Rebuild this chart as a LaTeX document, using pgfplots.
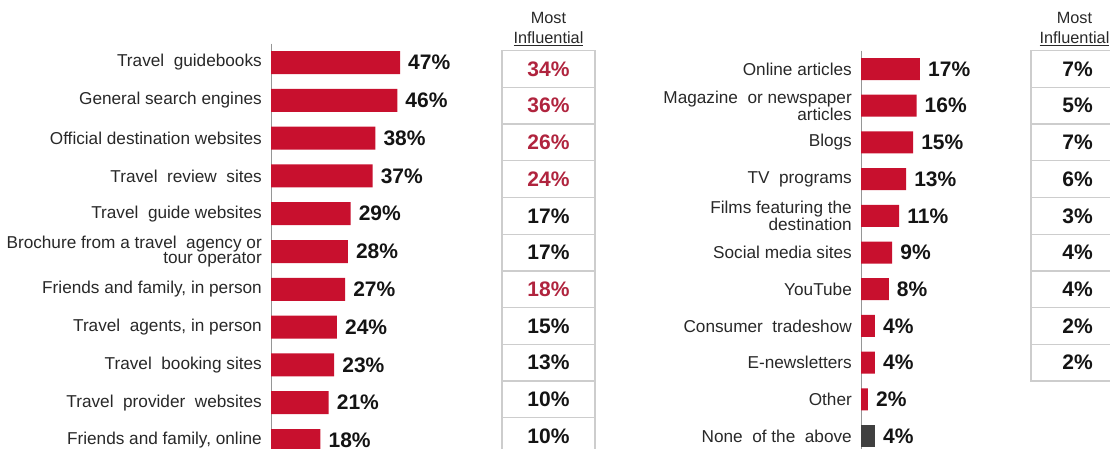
\documentclass[border=0pt]{standalone}
\usepackage{fontspec}
\setmainfont{Liberation Sans}
\usepackage{pgfplots}
\pgfplotsset{compat=1.18}
\definecolor{barred}{RGB}{200,16,46}
\definecolor{infred}{RGB}{176,36,62}
\definecolor{boxgray}{RGB}{205,205,205}
\definecolor{axgray}{RGB}{150,150,150}
\definecolor{darkbar}{RGB}{64,64,64}
\definecolor{labtxt}{RGB}{40,40,40}
\newcommand{\lab}{\fontsize{17.2bp}{12.5bp}\selectfont}
\newcommand{\val}{\fontsize{21bp}{21bp}\selectfont\bfseries}
\newcommand{\hdr}{\fontsize{16.3bp}{20bp}\selectfont}
\pgfplotsset{
  barax/.style={
    xbar, bar shift=0pt, clip=false,
    y dir=reverse, xmin=0,
    axis x line=none, axis y line*=left,
    axis line style={draw=axgray, line width=1bp},
    major tick length=0pt,
    ytick={0,...,10},
    yticklabel style={font=\lab, color=labtxt, align=right, inner sep=0pt, xshift=-9bp},
    nodes near coords={\pgfmathprintnumber{\pgfplotspointmeta}\%},
    point meta=x,
    /pgf/number format/assume math mode=true,
    every node near coord/.append style={anchor=west, inner sep=0pt, xshift=8bp, font=\val, color=black!92},
  },
  boxax/.style={
    x=1bp, y=36.7bp, xmin=0, xmax=93, y dir=reverse, ymin=-0.5,
    axis x line=none, axis y line=none, xtick=\empty, ytick=\empty, clip=false,
    title style={font=\hdr, text=labtxt, align=center, inner sep=0pt, at={(0.5,1)}, anchor=south, yshift=-1.5bp},
    title={Most\\\underline{Influential}},
  },
  boxplot/.style={
    draw=none, mark=none, point meta=explicit symbolic, nodes near coords,
    every node near coord/.append style={text=black!92, draw=boxgray, line width=1.3bp, minimum width=93bp, minimum height=36.7bp, inner sep=0pt, anchor=center, font=\val},
  },
}
\begin{document}
\begin{tikzpicture}
\path[use as bounding box] (0,0) rectangle (1110bp,449bp);
% left bars
\begin{axis}[barax, at={(271bp,405.4bp)}, anchor=north west, x=2.745bp, y=37.8bp,
  xmax=50, ymin=-0.5, ymax=10.6, bar width=23bp,
  yticklabels={Travel\ \ guidebooks, General\ search\ engines, Official destination websites, Travel\ \ review\ \ sites, Travel\ \ guide\ websites, {Brochure from a travel\ \ agency or\\tour operator}, {Friends and family, in person}, {Travel\ \ agents, in person}, Travel\ \ booking\ sites, Travel\ \ provider\ \ websites, {Friends and family, online}}]
\addplot[fill=barred, draw=none, bar shift=0pt] coordinates {(47,0) (46,1) (38,2) (37,3) (29,4) (28,5) (27,6) (24,7) (23,8) (21,9) (18,10)};
\end{axis}
% left boxes
\begin{axis}[boxax, at={(502bp,398.3bp)}, anchor=north west, ymax=10.5]
\addplot[boxplot] coordinates {
(46.5,0) [\textcolor{infred}{34\%}]
(46.5,1) [\textcolor{infred}{36\%}]
(46.5,2) [\textcolor{infred}{26\%}]
(46.5,3) [\textcolor{infred}{24\%}]
(46.5,4) [17\%]
(46.5,5) [17\%]
(46.5,6) [\textcolor{infred}{18\%}]
(46.5,7) [15\%]
(46.5,8) [13\%]
(46.5,9) [10\%]
(46.5,10) [10\%]
};
\end{axis}
% right bars
\begin{axis}[barax, at={(861bp,398.35bp)}, anchor=north west, x=3.47bp, y=36.7bp,
  xmax=20, ymin=-0.5, ymax=10.6, bar width=22bp,
  yticklabels={Online\ articles, {Magazine\ \ or newspaper\\articles}, Blogs, TV\ \ programs, {Films featuring the\\destination}, Social media sites, YouTube, Consumer\ \ tradeshow, E-newsletters, Other, None\ \ of the\ \ above}]
\addplot[fill=barred, draw=none, bar shift=0pt] coordinates {(17,0) (16,1) (15,2) (13,3) (11,4) (9,5) (8,6) (4,7) (4,8) (2,9)};
\addplot[fill=darkbar, draw=none, bar shift=0pt] coordinates {(4,10)};
\end{axis}
% right boxes
\begin{axis}[boxax, at={(1031bp,398.3bp)}, anchor=north west, ymax=8.5,
  title style={xshift=-3bp}]
\addplot[boxplot] coordinates {
(46.5,0) [7\%]
(46.5,1) [5\%]
(46.5,2) [7\%]
(46.5,3) [6\%]
(46.5,4) [3\%]
(46.5,5) [4\%]
(46.5,6) [4\%]
(46.5,7) [2\%]
(46.5,8) [2\%]
};
\end{axis}
\end{tikzpicture}
\end{document}
